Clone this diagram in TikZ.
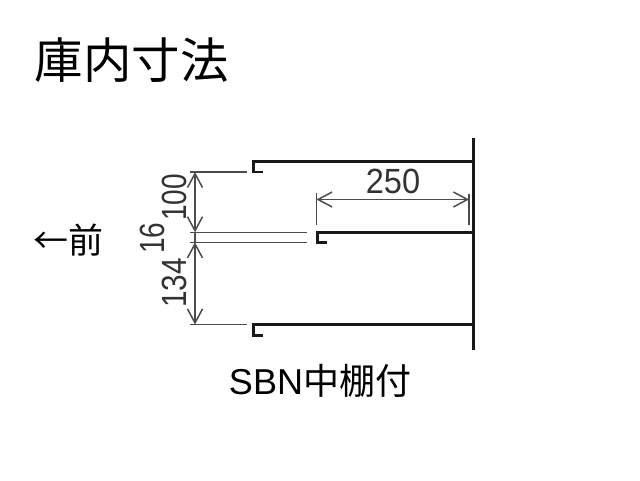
\documentclass[tikz,border=0pt]{standalone}
\usepackage{fontspec}
\setmainfont{Liberation Sans}
\newfontfamily\cjk{Noto Sans CJK JP}
\usetikzlibrary{arrows.meta}
\tikzset{
  x=1pt,y=-1pt,
  shelf/.style={draw=black!90,line width=2.5pt,line cap=butt,line join=miter},
  wallline/.style={draw=black!90,line width=2.6pt},
  ext/.style={draw=black!70,line width=1.5pt},
  dim/.style={draw=black!70,line width=1.5pt,{Straight Barb[length=14pt,width=15pt,line width=1.5pt]}-{Straight Barb[length=14pt,width=15pt,line width=1.5pt]}},
  lbl/.style={inner sep=0pt,text=black!80,font=\fontsize{35}{35}\selectfont},
}
\begin{document}
\begin{tikzpicture}
\useasboundingbox (0,0) rectangle (640,480);
\fill[white] (0,0) rectangle (640,480);
% anchors
\coordinate (wt) at (473.5,138);
\coordinate (wb) at (473.5,350);
\coordinate (s1a) at (263,172);
\coordinate (s1b) at (253.5,172);
\coordinate (s1c) at (253.5,161.5);
\coordinate (s1d) at (473.5,161.5);
\coordinate (s2a) at (327,242.5);
\coordinate (s2b) at (317.5,242.5);
\coordinate (s2c) at (317.5,232.7);
\coordinate (s2d) at (473.5,232.7);
\coordinate (s3a) at (263,335.5);
\coordinate (s3b) at (253.5,335.5);
\coordinate (s3c) at (253.5,324.7);
\coordinate (s3d) at (473.5,324.7);
\coordinate (e1a) at (190,172);
\coordinate (e1b) at (247,172);
\coordinate (e2a) at (190,232.3);
\coordinate (e2b) at (307,232.3);
\coordinate (e3a) at (190,242.3);
\coordinate (e3b) at (307,242.3);
\coordinate (e4a) at (190,324.5);
\coordinate (e4b) at (247,324.5);
\coordinate (d1) at (195,172);
\coordinate (d2) at (195,232.3);
\coordinate (d3) at (195,242.3);
\coordinate (d4) at (195,324.5);
\coordinate (h1t) at (316.5,193);
\coordinate (h1b) at (316.5,225);
\coordinate (h2t) at (469,194);
\coordinate (h2b) at (469,225);
\coordinate (h1) at (316.5,199.5);
\coordinate (h2) at (469,199.5);
% shelves and wall
\draw[wallline] (wt) -- (wb);
\draw[shelf] (s1a) -- (s1b) -- (s1c) -- (s1d);
\draw[shelf] (s2a) -- (s2b) -- (s2c) -- (s2d);
\draw[shelf] (s3a) -- (s3b) -- (s3c) -- (s3d);
% extension lines
\draw[ext] (e1a) -- (e1b);
\draw[ext] (e2a) -- (e2b);
\draw[ext] (e3a) -- (e3b);
\draw[ext] (e4a) -- (e4b);
\draw[ext] (h1t) -- (h1b);
\draw[ext] (h2t) -- (h2b);
% dimensions
\draw[dim] (d1) -- (d2);
\draw[dim] (d3) -- (d4);
\draw[ext] (d2) -- (d3);
\draw[dim] (h1) -- (h2);
% labels
\node[lbl] (n250) at (393,181) {\scalebox{.93}[1]{250}};
\node[lbl,rotate=90] (n100) at (174,197.5) {\scalebox{.8}[1]{100}};
\node[lbl,rotate=90] (n16) at (152.5,238) {\scalebox{.8}[1]{16}};
\node[lbl,rotate=90] (n134) at (174,283) {\scalebox{.85}[1]{134}};
\node[inner sep=0pt,font=\cjk\fontsize{48.5}{48.5}\selectfont] (title) at (131.5,60.5) {庫内寸法};
\node[inner sep=0pt,font=\cjk\fontsize{35}{35}\selectfont] (front) at (68.5,240) {←前};
\node[inner sep=0pt,font=\fontsize{36}{36}\selectfont] (cap) at (320,381) {SBN{\cjk 中棚付}};
\end{tikzpicture}
\end{document}
